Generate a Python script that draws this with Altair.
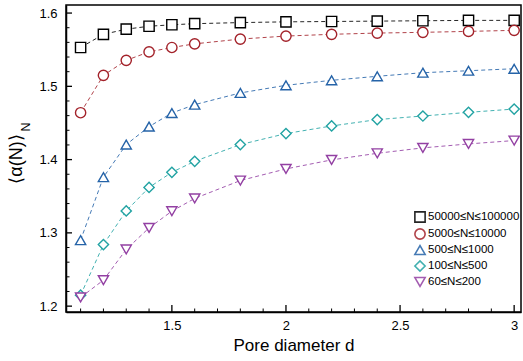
import altair as alt
import pandas as pd

# ---- data ----
pore_d = [1.1, 1.2, 1.3, 1.4, 1.5, 1.6, 1.8, 2.0, 2.2, 2.4, 2.6, 2.8, 3.0]
series_names = ["50000≤N≤100000", "5000≤N≤10000", "500≤N≤1000", "100≤N≤500", "60≤N≤200"]
s_50000 = [1.553, 1.571, 1.578, 1.582, 1.584, 1.5855, 1.587, 1.588, 1.5885, 1.589, 1.5895, 1.590, 1.590]
s_5000 = [1.464, 1.515, 1.5355, 1.547, 1.553, 1.558, 1.5645, 1.5686, 1.571, 1.5727, 1.5737, 1.575, 1.5764]
s_500 = [1.290, 1.376, 1.4205, 1.445, 1.4636, 1.475, 1.491, 1.5014, 1.5082, 1.5137, 1.5186, 1.5213, 1.524]
s_100 = [1.215, 1.284, 1.330, 1.362, 1.3827, 1.3977, 1.4205, 1.4355, 1.4459, 1.4546, 1.4595, 1.4645, 1.469]
s_60 = [1.2119, 1.2355, 1.2774, 1.3068, 1.3296, 1.347, 1.3714, 1.3873, 1.3996, 1.4086, 1.416, 1.4214, 1.426]
colors = ["#000000", "#a3222a", "#2563a8", "#22a3a3", "#9340a3"]
shapes = ["square", "circle", "triangle-up", "diamond", "triangle-down"]

x_major = [1.5, 2.0, 2.5, 3.0]
x_minor = [1.1, 1.2, 1.3, 1.4, 1.6, 1.7, 1.8, 1.9, 2.1, 2.2, 2.3, 2.4, 2.6, 2.7, 2.8, 2.9]
y_major = [1.2, 1.3, 1.4, 1.5, 1.6]
y_minor = [1.22, 1.24, 1.26, 1.28, 1.32, 1.34, 1.36, 1.38, 1.42, 1.44, 1.46, 1.48,
           1.52, 1.54, 1.56, 1.58]

all_series = [s_50000, s_5000, s_500, s_100, s_60]
rows = []
for name, vals in zip(series_names, all_series):
    for d, v in zip(pore_d, vals):
        rows.append({"d": d, "alpha": v, "series": name})
df = pd.DataFrame(rows)

FONT = "Liberation Sans"
xdom = [1.036, 3.03]
ydom = [1.192, 1.611]

xs = alt.Scale(domain=xdom, nice=False, zero=False)
ys = alt.Scale(domain=ydom, nice=False, zero=False)
color_scale = alt.Scale(domain=series_names, range=colors)
shape_scale = alt.Scale(domain=series_names, range=shapes)

legend_def = alt.Legend(
    title=None, orient="none", legendX=348, legendY=206, padding=0,
    labelFont=FONT, labelFontSize=11.5, labelColor="#000", symbolSize=105,
    symbolStrokeWidth=1.6, symbolFillColor="white", rowPadding=-1, labelOffset=2,
    symbolDash=[], symbolType="circle",
)

x_axis = alt.Axis(values=x_major, format="~g", tickSize=0, labelPadding=7, labelFont=FONT,
                  labelFontSize=13, labelColor="#000", domainColor="#000", domainWidth=1.5,
                  grid=False, title="Pore diameter d", titleFont=FONT, titleFontSize=17,
                  titleFontWeight="normal", titleColor="#000", titlePadding=5)
y_axis = alt.Axis(values=y_major, format=".1f", tickSize=0, labelPadding=9, labelFont=FONT,
                  labelFontSize=13, labelColor="#000", domainColor="#000", domainWidth=1.5,
                  grid=False, title=None)

points = alt.Chart(df).mark_point(filled=False, fill="white", fillOpacity=1, strokeWidth=1.4,
                                  size=105, opacity=1).encode(
    x=alt.X("d:Q", scale=xs, axis=x_axis),
    y=alt.Y("alpha:Q", scale=ys, axis=y_axis),
    color=alt.Color("series:N", scale=color_scale, legend=legend_def),
    shape=alt.Shape("series:N", scale=shape_scale, legend=legend_def),
)

lines = alt.Chart(df).mark_line(strokeDash=[4, 3], strokeWidth=1, opacity=0.85).encode(
    x=alt.X("d:Q", scale=xs),
    y=alt.Y("alpha:Q", scale=ys),
    color=alt.Color("series:N", scale=color_scale, legend=legend_def),
)

xmaj_df = pd.DataFrame({"v": x_major})
xmin_df = pd.DataFrame({"v": x_minor})
ymaj_df = pd.DataFrame({"v": y_major})
ymin_df = pd.DataFrame({"v": y_minor})

xmaj_ticks = alt.Chart(xmaj_df).mark_rule(color="#000", strokeWidth=1.3).encode(
    x=alt.X("v:Q", scale=xs), y=alt.value(307), y2=alt.value(300))
xmin_ticks = alt.Chart(xmin_df).mark_rule(color="#000", strokeWidth=1).encode(
    x=alt.X("v:Q", scale=xs), y=alt.value(307), y2=alt.value(303.5))
ymaj_ticks = alt.Chart(ymaj_df).mark_rule(color="#000", strokeWidth=1.3).encode(
    y=alt.Y("v:Q", scale=ys), x=alt.value(0), x2=alt.value(6))
ymin_ticks = alt.Chart(ymin_df).mark_rule(color="#000", strokeWidth=1).encode(
    y=alt.Y("v:Q", scale=ys), x=alt.value(0), x2=alt.value(3.5))

title_df = pd.DataFrame({"t": ["⟨α(N)⟩"], "s": ["N"]})
ytitle = alt.Chart(title_df).mark_text(angle=270, font=FONT, fontSize=18, color="#000",
                                       align="center", baseline="middle").encode(
    text="t:N", x=alt.value(-49), y=alt.value(154))
ysub = alt.Chart(title_df).mark_text(angle=270, font=FONT, fontSize=12.5, color="#000",
                                     align="center", baseline="middle").encode(
    text="s:N", x=alt.value(-40), y=alt.value(122))

chart = alt.layer(
    lines, points, xmaj_ticks, xmin_ticks, ymaj_ticks, ymin_ticks, ytitle, ysub
).properties(
    width=455, height=307,
    autosize=alt.AutoSizeParams(type="none"),
    padding={"left": 66, "top": 5, "right": 2, "bottom": 49},
    background="white",
).configure_view(
    stroke="#000", strokeWidth=1.5
)

chart.save("out.html", embed_options={"renderer": "svg", "actions": False})
